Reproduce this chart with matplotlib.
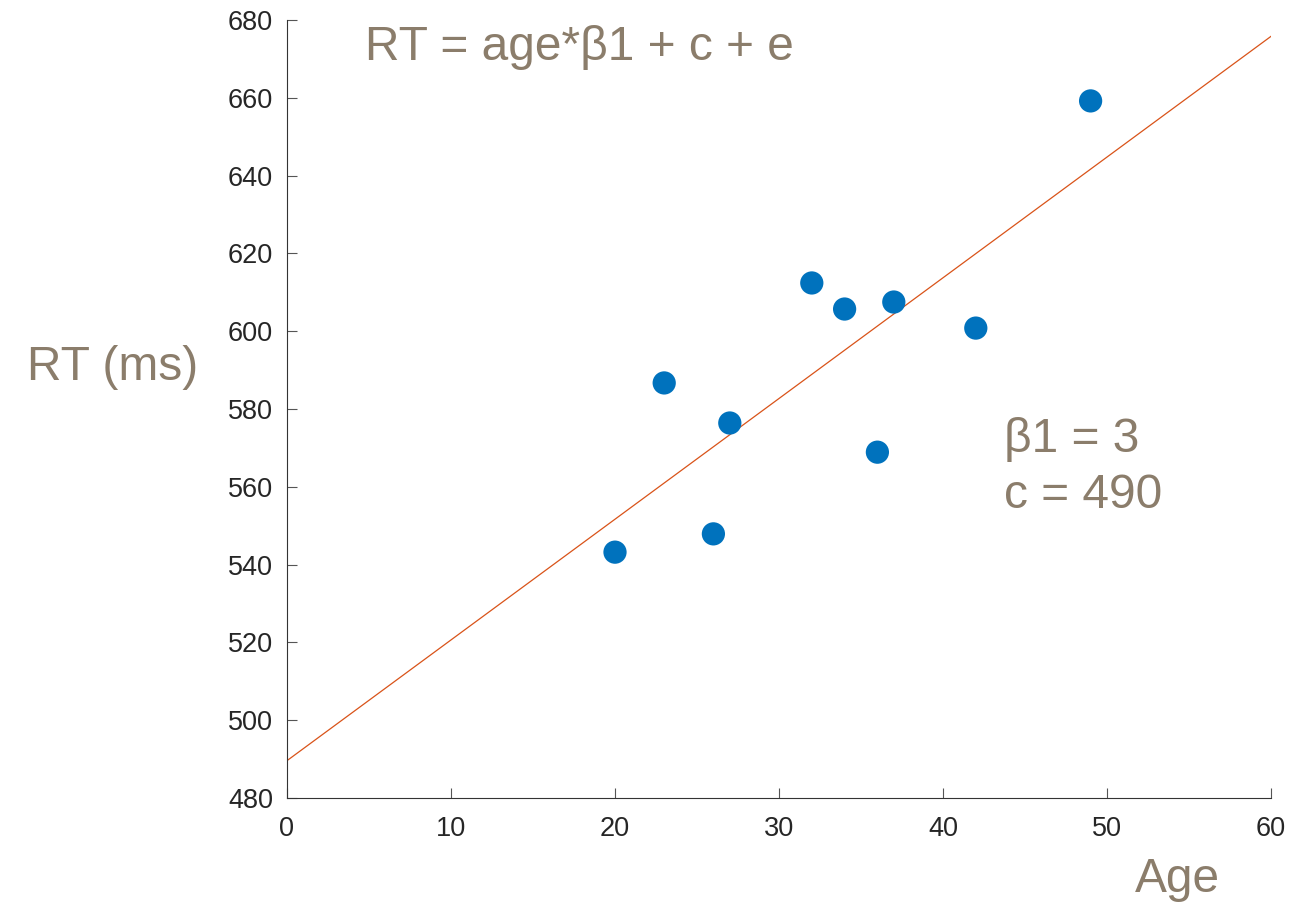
import matplotlib
matplotlib.use('Agg')
import matplotlib.pyplot as plt

# data
age = [20, 23, 26, 27, 32, 34, 36, 37, 42, 49]
rt = [543.2, 586.7, 547.9, 576.4, 612.4, 605.7, 568.9, 607.5, 600.8, 659.2]

# fitted line end points
line_x = [0, 60]
line_y = [489.6, 675.8]

xticks = [0, 10, 20, 30, 40, 50, 60]
yticks = [480, 500, 520, 540, 560, 580, 600, 620, 640, 660, 680]

plt.rcParams['font.family'] = ['Liberation Sans', 'DejaVu Sans']
txt_col = '#8b7d6b'
W, H = 1307, 915

fig = plt.figure(figsize=(W / 100, H / 100), dpi=100)
ax = fig.add_axes([287 / W, 1 - 798 / H, (1271 - 287) / W, (798 - 20) / H])

ax.plot(line_x, line_y, color='#d95319', lw=0.9, zorder=2)
ax.scatter(age, rt, s=280, color='#0072bd', edgecolors='none', zorder=3)

ax.set_xlim(0, 60)
ax.set_ylim(480, 680)
ax.set_xticks(xticks)
ax.set_yticks(yticks)
ax.spines['top'].set_visible(False)
ax.spines['right'].set_visible(False)
for s in ['left', 'bottom']:
    ax.spines[s].set_color('#333333')
    ax.spines[s].set_linewidth(0.8)
ax.tick_params(direction='in', length=7, width=0.8, color='#555555',
               labelsize=19.5, labelcolor='#262626')
ax.tick_params(axis='y', pad=10)
ax.tick_params(axis='x', pad=13)

# annotations placed in figure pixel space
fig.text(365 / W, 1 - 47 / H, 'RT = age*β1 + c + e', fontsize=34.5, color=txt_col,
         ha='left', va='center')
fig.text(27 / W, 1 - 367 / H, 'RT (ms)', fontsize=34.5, color=txt_col,
         ha='left', va='center')
fig.text(1004 / W, 1 - 440 / H, 'β1 = 3', fontsize=34.5, color=txt_col,
         ha='left', va='center')
fig.text(1004 / W, 1 - 496 / H, 'c = 490', fontsize=34.5, color=txt_col,
         ha='left', va='center')
fig.text(1135 / W, 1 - 880 / H, 'Age', fontsize=34.5, color=txt_col,
         ha='left', va='center')

fig.savefig('out.png', dpi=100, facecolor='white')
